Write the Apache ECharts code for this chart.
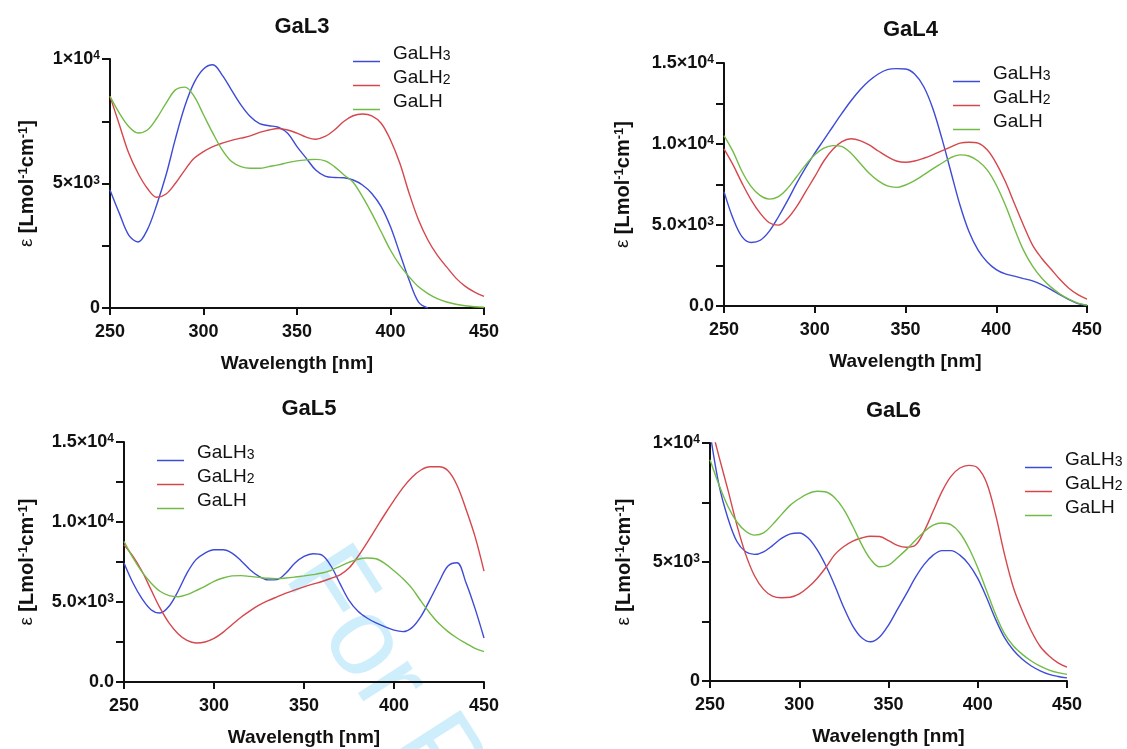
<!DOCTYPE html>
<html>
<head>
<meta charset="utf-8">
<script src="https://cdn.jsdelivr.net/npm/echarts/dist/echarts.min.js"></script>
<style>
html, body { margin: 0; padding: 0; background: #fff; }
#main { width: 1127px; height: 749px; }
</style>
</head>
<body>
<div id="main"></div>
<script>
// wavelength grid shared by every panel (nm)
var wl = [250, 255, 260, 265, 270, 275, 280, 285, 290, 295,
          300, 305, 310, 315, 320, 325, 330, 335, 340, 345,
          350, 355, 360, 365, 370, 375, 380, 385, 390, 395,
          400, 405, 410, 415, 420, 425, 430, 435, 440, 445, 450];

var seriesNames = ['GaLH3', 'GaLH2', 'GaLH'];
var xTicks = [250, 300, 350, 400, 450];
// y tick labels, one per 2500 step
var yTicksA = ['0', '', '5×10{s|3}', '', '1×10{s|4}'];
var yTicksB = ['0.0', '', '5.0×10{s|3}', '', '1.0×10{s|4}', '', '1.5×10{s|4}'];

// GaL3
var gal3H3 = [4740, 3800, 2930, 2650, 3150, 4150, 5350, 6800, 8100, 9050,
              9600, 9770, 9350, 8750, 8160, 7690, 7400, 7320, 7260, 7020,
              6480, 6010, 5540, 5300, 5240, 5230, 5140, 4940, 4600, 4070,
              3260, 2190, 1110, 240, 0, null, null, null, null, null, null];
var gal3H2 = [8500, 7360, 6220, 5410, 4800, 4450, 4580, 5010, 5540, 6010,
              6280, 6480, 6620, 6730, 6820, 6910, 7050, 7150, 7210, 7150,
              7020, 6860, 6780, 6890, 7150, 7490, 7720, 7790, 7720, 7420,
              6750, 5810, 4600, 3530, 2730, 2120, 1650, 1200, 870, 640, 470];
var gal3H = [8500, 7830, 7290, 7030, 7150, 7620, 8230, 8760, 8870, 8500,
             7760, 7020, 6350, 5880, 5680, 5610, 5610, 5680, 5750, 5840,
             5910, 5950, 5970, 5910, 5680, 5350, 5050, 4470, 3800, 3060,
             2320, 1720, 1250, 850, 580, 380, 240, 150, 90, 50, 30];

// GaL4
var gal4H3 = [7060, 5400, 4270, 3920, 4060, 4620, 5510, 6500, 7570, 8540,
              9430, 10250, 11080, 11900, 12670, 13350, 13900, 14320, 14590, 14650,
              14630, 14320, 13550, 12210, 10360, 8290, 6230, 4580, 3450, 2720,
              2250, 1980, 1840, 1690, 1550, 1320, 1030, 700, 400, 150, 50];
var gal4H2 = [9700, 8710, 7570, 6540, 5720, 5140, 4990, 5400, 6130, 7060,
              7980, 8950, 9680, 10150, 10320, 10210, 9940, 9570, 9220, 8950,
              8870, 8950, 9120, 9330, 9570, 9820, 10050, 10110, 10050, 9640,
              8810, 7680, 6330, 4990, 3760, 2950, 2300, 1650, 1100, 700, 420];
var gal4H = [10520, 9530, 8290, 7370, 6810, 6600, 6750, 7260, 7980, 8710,
             9330, 9740, 9900, 9840, 9430, 8810, 8190, 7720, 7410, 7320,
             7470, 7740, 8090, 8460, 8810, 9160, 9330, 9260, 8950, 8400,
             7470, 6230, 4790, 3450, 2460, 1730, 1180, 750, 420, 180, 50];

// GaL5
var gal5H3 = [7440, 6190, 5210, 4520, 4310, 4730, 5670, 6810, 7650, 8060,
              8270, 8270, 8060, 7580, 7020, 6600, 6380, 6400, 6810, 7440,
              7850, 8020, 7930, 7250, 6150, 5100, 4420, 4000, 3690, 3450,
              3240, 3150, 3400, 4100, 5150, 6250, 7250, 7450, 6200, 4600, 2750];
var gal5H2 = [8580, 7850, 6920, 5770, 4630, 3690, 3020, 2600, 2440, 2500,
              2720, 3100, 3580, 4050, 4450, 4800, 5080, 5320, 5550, 5760,
              5950, 6120, 6280, 6480, 6700, 7120, 7850, 8700, 9600, 10500,
              11350, 12150, 12800, 13250, 13450, 13450, 13200, 12300, 10800, 9100, 6930];
var gal5H = [8790, 7750, 6880, 6190, 5670, 5400, 5330, 5460, 5710, 5980,
             6290, 6500, 6630, 6650, 6600, 6540, 6480, 6460, 6500, 6560,
             6630, 6710, 6810, 6980, 7230, 7480, 7670, 7750, 7700, 7400,
             6950, 6450, 5850, 5050, 4300, 3650, 3150, 2750, 2420, 2100, 1900];

// GaL6
var gal6H3 = [10450, 8250, 6850, 5870, 5430, 5320, 5430, 5690, 5990, 6180,
              6220, 6010, 5520, 4830, 3990, 3080, 2310, 1820, 1650, 1850,
              2350, 3010, 3660, 4340, 4900, 5290, 5480, 5480, 5290, 4900,
              4310, 3500, 2590, 1820, 1290, 910, 630, 430, 280, 190, 130];
var gal6H2 = [10900, 9440, 8040, 6570, 5320, 4410, 3850, 3570, 3500, 3520,
              3660, 3940, 4310, 4780, 5320, 5650, 5880, 6010, 6080, 6070,
              5900, 5700, 5620, 5700, 6300, 7130, 7970, 8600, 8950, 9060,
              8950, 8320, 6990, 5320, 3920, 2940, 2100, 1450, 1050, 760, 580];
var gal6H = [9300, 8250, 7340, 6690, 6290, 6130, 6220, 6570, 6990, 7390,
             7660, 7870, 7970, 7940, 7690, 7200, 6500, 5730, 5110, 4800,
             4870, 5180, 5520, 5900, 6270, 6550, 6640, 6570, 6220, 5590,
             4760, 3780, 2800, 1990, 1470, 1120, 840, 620, 460, 350, 280];

var colors = ['#3d4bd6', '#d5474c', '#72bb47'];
var font = 'Liberation Sans, Arial, sans-serif';

var panels = [
    { title: 'GaL3', grid: { left: 110, top: 59, width: 374, height: 249 }, ymax: 10000, ticks: yTicksA,
      yGap: 73, titleTop: 11, legend: { left: 353, top: 44 }, data: [gal3H3, gal3H2, gal3H] },
    { title: 'GaL4', grid: { left: 724, top: 63, width: 363, height: 243 }, ymax: 15000, ticks: yTicksB,
      yGap: 91, titleTop: 14, legend: { left: 953, top: 64 }, data: [gal4H3, gal4H2, gal4H] },
    { title: 'GaL5', grid: { left: 124, top: 442, width: 360, height: 240 }, ymax: 15000, ticks: yTicksB,
      yGap: 87, titleTop: 393, legend: { left: 157, top: 443 }, data: [gal5H3, gal5H2, gal5H] },
    { title: 'GaL6', grid: { left: 710, top: 443, width: 357, height: 238 }, ymax: 10000, ticks: yTicksA,
      yGap: 76, titleTop: 395, legend: { left: 1025, top: 450 }, data: [gal6H3, gal6H2, gal6H] }
];

function pairs(xs, ys) {
    var out = [];
    for (var i = 0; i < xs.length; i++) {
        if (ys[i] !== null) out.push([xs[i], ys[i]]);
    }
    return out;
}

var option = {
    backgroundColor: '#fff',
    animation: false,
    title: [],
    legend: [],
    grid: [],
    xAxis: [],
    yAxis: [],
    series: [],
    graphic: [{
        type: 'text',
        x: 262,
        y: 590,
        rotation: -1.0,
        z: -10,
        silent: true,
        style: {
            text: 'For Peer Review',
            font: '112px Liberation Sans, Arial, sans-serif',
            fill: '#cfeefc',
            verticalAlign: 'bottom'
        }
    }]
};

// legend mark: thin line at the bottom of the icon box, so the text sits above it
var legendIcon = 'path://M0,0L27,0L27,0.001L0,0.001Z M0,16L27,16L27,17.5L0,17.5Z';

panels.forEach(function (p, i) {
    option.grid.push(p.grid);

    option.title.push({
        text: p.title,
        left: p.grid.left + p.grid.width / 2,
        top: p.titleTop,
        textAlign: 'center',
        textStyle: { fontSize: 22, fontWeight: 'bold', fontFamily: font, color: '#111' }
    });

    option.legend.push({
        data: seriesNames,
        orient: 'vertical',
        left: p.legend.left,
        top: p.legend.top,
        icon: legendIcon,
        itemWidth: 27,
        itemHeight: 17.5,
        itemGap: 4.5,
        padding: 0,
        selectedMode: false,
        formatter: function (name) {
            if (name.length > 4) return '{n|GaLH}{sub|' + name.slice(4) + '}';
            return '{n|GaLH}';
        },
        textStyle: {
            fontFamily: font,
            color: '#111',
            rich: {
                n: { fontSize: 19, lineHeight: 20, fontFamily: font, color: '#111', padding: [0, 0, 0, 8] },
                sub: { fontSize: 14, lineHeight: 13, fontFamily: font, color: '#111', verticalAlign: 'bottom' }
            }
        }
    });

    option.xAxis.push({
        type: 'value',
        gridIndex: i,
        min: 250,
        max: 450,
        interval: 50,
        name: 'Wavelength [nm]',
        nameLocation: 'middle',
        nameGap: 46,
        nameTextStyle: { fontSize: 19, fontWeight: 'bold', fontFamily: font, color: '#111' },
        axisLine: { lineStyle: { color: '#111', width: 2 } },
        axisTick: { length: 7, lineStyle: { color: '#111', width: 2 } },
        axisLabel: {
            margin: 15,
            fontSize: 18,
            fontWeight: 'bold',
            fontFamily: font,
            color: '#111',
            formatter: function (v) { return xTicks.indexOf(v) >= 0 ? String(v) : ''; }
        },
        splitLine: { show: false }
    });

    option.yAxis.push({
        type: 'value',
        gridIndex: i,
        min: 0,
        max: p.ymax,
        interval: 2500,
        name: '{e|ε }[Lmol{s|-1}cm{s|-1}]',
        nameLocation: 'middle',
        nameRotate: 90,
        nameGap: p.yGap,
        nameTextStyle: {
            fontSize: 20, fontWeight: 'bold', fontFamily: font, color: '#111',
            rich: {
                e: { fontSize: 19, fontWeight: 'normal', fontFamily: font, color: '#111' },
                s: { fontSize: 13, fontWeight: 'bold', fontFamily: font, color: '#111', verticalAlign: 'top' }
            }
        },
        axisLine: { show: true, lineStyle: { color: '#111', width: 2 } },
        axisTick: { show: true, length: 8, lineStyle: { color: '#111', width: 2 } },
        axisLabel: {
            margin: 10,
            fontSize: 18,
            fontWeight: 'bold',
            fontFamily: font,
            color: '#111',
            formatter: function (v) { return p.ticks[Math.round(v / 2500)] || ''; },
            rich: {
                s: { fontSize: 12, fontWeight: 'bold', fontFamily: font, color: '#111', verticalAlign: 'top' }
            }
        },
        splitLine: { show: false }
    });

    p.data.forEach(function (vals, k) {
        option.series.push({
            name: seriesNames[k],
            type: 'line',
            xAxisIndex: i,
            yAxisIndex: i,
            data: pairs(wl, vals),
            smooth: 0.35,
            showSymbol: false,
            symbol: 'none',
            clip: true,
            color: colors[k],
            lineStyle: { width: 1.4, color: colors[k] }
        });
    });
});

var myChart = echarts.init(document.getElementById('main'));
myChart.setOption(option);
</script>
</body>
</html>
